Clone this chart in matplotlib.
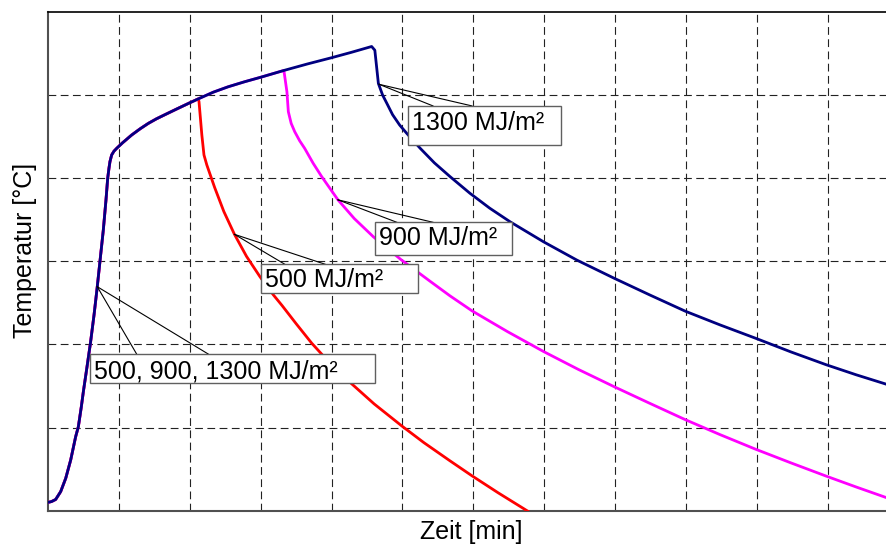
import matplotlib
matplotlib.use('Agg')
import matplotlib.pyplot as plt
from matplotlib.patches import Rectangle

plt.rcParams['font.family'] = ['Liberation Sans', 'DejaVu Sans']

#------------------------
# temperature curves: shared heating phase, then cooling per energy density

heat_t = [0, 0.5, 1.08, 1.79, 2.5, 3.2, 3.9, 4.28, 4.7, 5.0, 5.45, 6.0, 6.5, 6.95,
          7.33, 7.8, 8.18, 8.42, 8.6, 8.74, 8.98, 9.3, 9.69, 10.5, 11.8, 13.0,
          14.15, 15.3, 16.5, 18.2, 19.93, 21.2, 23.3, 25.4, 27.7, 30.0, 33.2,
          36.6, 40.0, 42.8, 45.65]
heat_T = [20, 22, 27, 46, 78, 122, 178, 202, 250, 288, 340, 405, 472, 539,
          600, 675, 748, 800, 824, 840, 856, 865, 872, 885, 904, 919,
          932, 943, 953, 967, 981, 991, 1007, 1020, 1032, 1043, 1059,
          1075, 1090, 1103, 1117]

cool500_t = [21.2, 21.3, 21.7, 22.0, 22.4, 23.5, 24.8, 26.3, 28.0, 29.9, 31.8,
             33.0, 35.0, 37.2, 39.5, 42.0, 46.0, 49.9, 53.0, 56.7, 59.8, 63.5,
             67.0, 68.5]
cool500_T = [991, 984, 904, 856, 832, 778, 720, 665, 612, 563, 519,
             494, 450, 403, 360, 318, 257, 204, 164, 120, 84, 43,
             6, -10]

cool900_t = [33.2, 33.3, 33.7, 33.9, 34.3, 34.8, 35.5, 36.2, 37.4, 38.6, 40.9,
             43.2, 45.9, 49.8, 53.9, 56.7, 59.8, 64.8, 69.9, 74.8, 79.9, 84.8,
             89.9, 94.8, 99.8, 104.8, 109.8, 114.0, 118.5]
cool900_T = [1059, 1056, 1008, 960, 932, 912, 890, 872, 836, 804, 748,
             703, 659, 604, 552, 517, 481, 431, 383, 340, 298, 259,
             219, 183, 148, 115, 83, 57, 30]

cool1300_t = [45.65, 46.1, 46.6, 47.2, 47.8, 48.6, 49.6, 50.6, 52.5, 54.5, 56.7,
              59.5, 62.3, 65.2, 69.9, 74.6, 79.9, 84.9, 89.9, 94.8, 99.8, 104.8,
              109.8, 114.0, 118.5]
cool1300_T = [1117, 1108, 1028, 1000, 980, 953, 928, 908, 872, 837, 804,
              764, 728, 695, 647, 603, 559, 519, 480, 447, 415, 382,
              351, 327, 303]

# heating ends where each cooling curve starts
end500 = heat_t.index(cool500_t[0]) + 1
end900 = heat_t.index(cool900_t[0]) + 1
end1300 = heat_t.index(cool1300_t[0]) + 1

series = [
    (heat_t[:end500] + cool500_t[1:], heat_T[:end500] + cool500_T[1:], '#ff0000'),
    (heat_t[:end900] + cool900_t[1:], heat_T[:end900] + cool900_T[1:], '#ff00ff'),
    (heat_t[:end1300] + cool1300_t[1:], heat_T[:end1300] + cool1300_T[1:], '#000080'),
]

# callout boxes: text, curve point, leader ends on box top, box extent, text baseline
labels = ['1300 MJ/m²', '900 MJ/m²', '500 MJ/m²', '500, 900, 1300 MJ/m²']
label_pt = [(46.7, 1026), (40.9, 748), (26.3, 665), (6.95, 539)]
leader_x = [(54.3, 59.8), (49.2, 54.3), (33.4, 39.1), (12.5, 22.6)]
box_x = [(50.8, 72.4), (46.1, 65.5), (30.0, 52.2), (5.9, 46.1)]
box_y = [(880, 974), (615, 694), (523, 593), (308, 377)]
text_base = [916, 639, 539, 317]

#------------------------

fig = plt.figure(figsize=(8.86, 5.46), dpi=100)
ax = fig.add_axes([48 / 886, 35.3 / 546, 838 / 886, 498.7 / 546])

for t, T, c in series:
    ax.plot(t, T, color=c, lw=2.0, zorder=3, solid_joinstyle='round')

for txt, (px, py), (lx0, lx1), (bx0, bx1), (by0, by1), yb in zip(
        labels, label_pt, leader_x, box_x, box_y, text_base):
    ax.plot([px, lx0], [py, by1], color='black', lw=0.8, zorder=4)
    ax.plot([px, lx1], [py, by1], color='black', lw=0.8, zorder=4)
    ax.add_patch(Rectangle((bx0, by0), bx1 - bx0, by1 - by0, facecolor='white',
                           edgecolor='#606060', lw=1.0, zorder=5))
    ax.text(bx0 + 0.55, yb, txt, fontsize=18, va='baseline', ha='left', zorder=6)

ax.set_xlim(0, 118.2)
ax.set_ylim(0, 1200)
ax.set_xticks(range(10, 118, 10))
ax.set_yticks(range(200, 1200, 200))
ax.tick_params(length=0, labelleft=False, labelbottom=False)
ax.grid(True, color='#222222', lw=0.8, linestyle=(0, (7, 4)))

ax.spines['right'].set_visible(False)
ax.spines['top'].set_color('black')
ax.spines['top'].set_linewidth(1.2)
for s in ['left', 'bottom']:
    ax.spines[s].set_color('#505050')
    ax.spines[s].set_linewidth(1.5)

ax.set_xlabel('Zeit [min]', fontsize=18)
ax.set_ylabel('Temperatur [°C]', fontsize=18)
ax.xaxis.set_label_coords(0.505, -0.018)
ax.yaxis.set_label_coords(-0.013, 0.522)

fig.savefig('out.png', dpi=100)
